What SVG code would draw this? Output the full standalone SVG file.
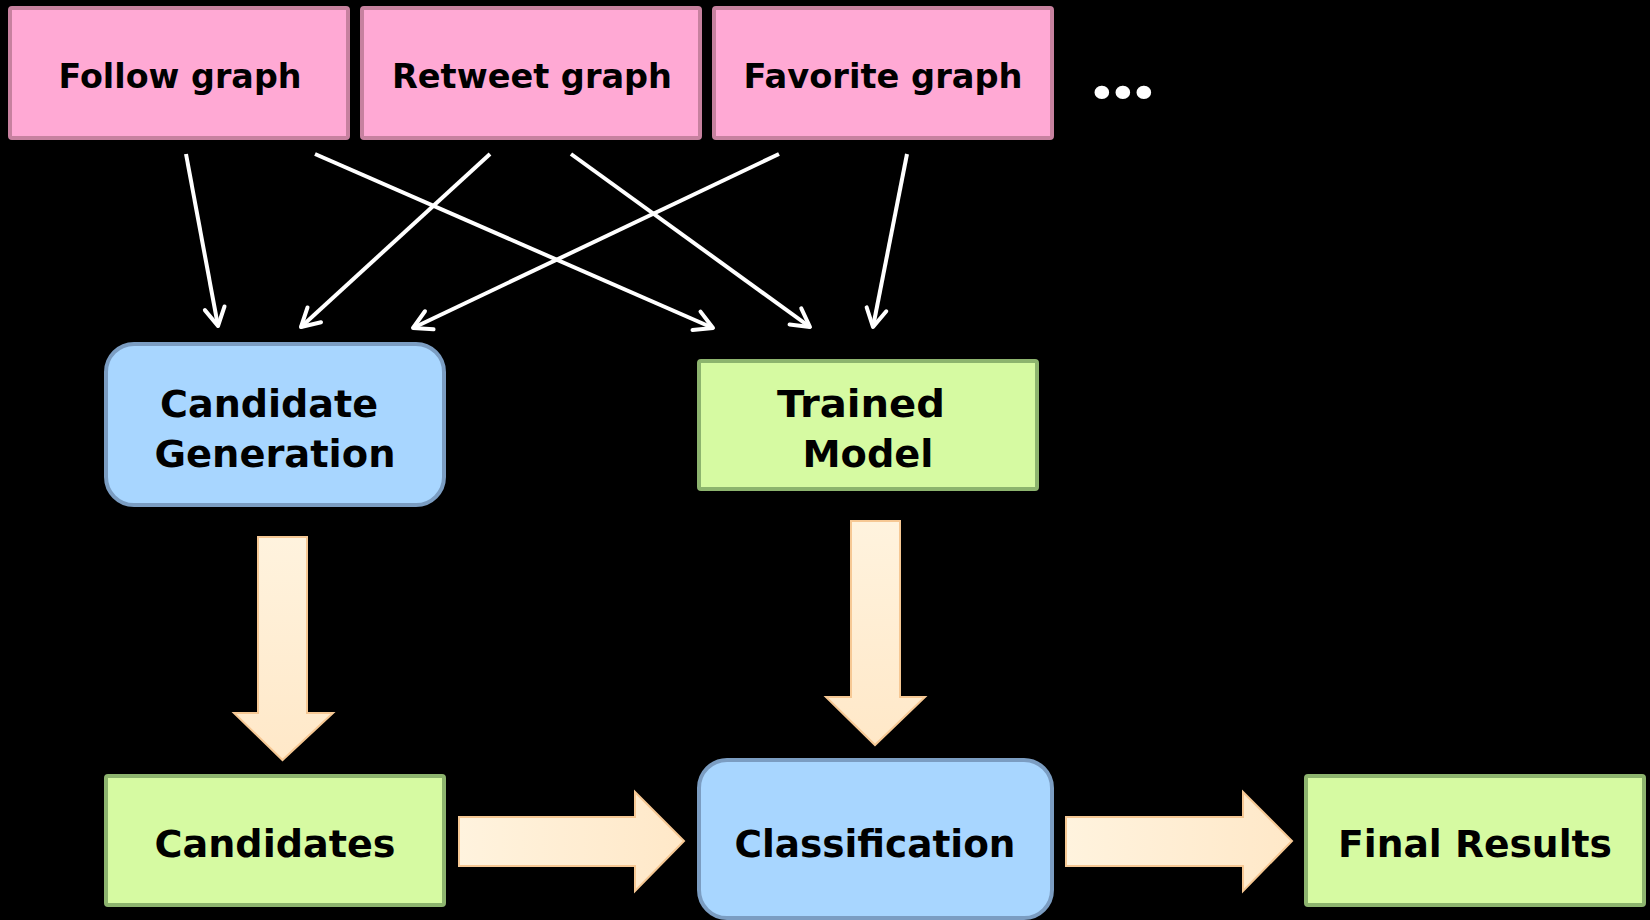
<svg xmlns="http://www.w3.org/2000/svg" width="1650" height="920" viewBox="0 0 1650 920">
  <style>
    .label { font-family: "DejaVu Sans", "Liberation Sans", sans-serif; font-weight: bold; fill: #000; text-anchor: middle; }
    .top { font-size: 34px; }
    .big { font-size: 37px; }
    .pink { fill: #FFA9D4; stroke: #C7819F; stroke-width: 4; }
    .green { fill: #D6FAA2; stroke: #8DB46E; stroke-width: 4; }
    .blue { fill: #A8D6FF; stroke: #7B9DC2; stroke-width: 4; }
    .block { fill: url(#cream); stroke: #F6C894; stroke-width: 2; }
    .blockH { fill: url(#creamH); stroke: #F6C894; stroke-width: 2; }
    .link { stroke: #FFFFFF; stroke-width: 4; fill: none; marker-end: url(#chev); }
  </style>
  <defs>
    <linearGradient id="cream" x1="0" y1="0" x2="0" y2="1">
      <stop offset="0" stop-color="#FFF3DE"/>
      <stop offset="1" stop-color="#FFE8C8"/>
    </linearGradient>
    <linearGradient id="creamH" x1="0" y1="0" x2="1" y2="0">
      <stop offset="0" stop-color="#FFF3DE"/>
      <stop offset="1" stop-color="#FFE8C8"/>
    </linearGradient>
    <marker id="chev" markerUnits="userSpaceOnUse" markerWidth="30" markerHeight="30" viewBox="-24 -15 30 30" refX="0" refY="0" orient="auto">
      <path d="M -18 -10 L 0 0 L -18 10" fill="none" stroke="#FFFFFF" stroke-width="4" stroke-linecap="round" stroke-linejoin="round"/>
    </marker>
  </defs>

  <rect width="1650" height="920" fill="#000"/>

  <!-- source graphs -->
  <g id="follow-graph">
    <rect class="pink" x="10" y="8" width="338" height="130" rx="2"/>
    <text class="label top" x="180" y="88" textLength="243" lengthAdjust="spacingAndGlyphs">Follow graph</text>
  </g>
  <g id="retweet-graph">
    <rect class="pink" x="362" y="8" width="338" height="130" rx="2"/>
    <text class="label top" x="532" y="88" textLength="280" lengthAdjust="spacingAndGlyphs">Retweet graph</text>
  </g>
  <g id="favorite-graph">
    <rect class="pink" x="714" y="8" width="338" height="130" rx="2"/>
    <text class="label top" x="883" y="88" textLength="279" lengthAdjust="spacingAndGlyphs">Favorite graph</text>
  </g>
  <g id="more-graphs">
    <text x="1102 1123 1144" y="99" font-family="Roboto, sans-serif" font-weight="900" font-size="80" fill="#FFFFFF" text-anchor="middle">...</text>
  </g>

  <!-- processing stages -->
  <g id="candidate-generation">
    <rect class="blue" x="106" y="344" width="338" height="161" rx="28"/>
    <text class="label big" x="269" y="417" textLength="218" lengthAdjust="spacingAndGlyphs">Candidate</text>
    <text class="label big" x="275" y="467" textLength="241" lengthAdjust="spacingAndGlyphs">Generation</text>
  </g>
  <g id="trained-model">
    <rect class="green" x="699" y="361" width="338" height="128" rx="2"/>
    <text class="label big" x="861" y="417" textLength="168" lengthAdjust="spacingAndGlyphs">Trained</text>
    <text class="label big" x="868" y="467" textLength="131" lengthAdjust="spacingAndGlyphs">Model</text>
  </g>
  <g id="candidates">
    <rect class="green" x="106" y="776" width="338" height="129" rx="2"/>
    <text class="label big" x="275" y="857" textLength="241" lengthAdjust="spacingAndGlyphs">Candidates</text>
  </g>
  <g id="classification">
    <rect class="blue" x="699" y="760" width="353" height="158" rx="28"/>
    <text class="label big" x="875" y="857" textLength="281" lengthAdjust="spacingAndGlyphs">Classification</text>
  </g>
  <g id="final-results">
    <rect class="green" x="1306" y="776" width="338" height="129" rx="2"/>
    <text class="label big" x="1475" y="857" textLength="274" lengthAdjust="spacingAndGlyphs">Final Results</text>
  </g>

  <!-- connectors -->
  <g id="connectors">
    <line class="link" x1="186" y1="154" x2="218" y2="326"/>
    <line class="link" x1="315" y1="154" x2="713" y2="328"/>
    <line class="link" x1="490" y1="154" x2="301" y2="327"/>
    <line class="link" x1="571" y1="154" x2="810" y2="327"/>
    <line class="link" x1="779" y1="154" x2="413" y2="328"/>
    <line class="link" x1="907" y1="154" x2="873" y2="327"/>

    <path class="block" d="M 258 537 H 307 V 713 H 333 L 282.5 760 L 234 713 H 258 Z"/>
    <path class="block" d="M 851 521 H 900 V 697 H 925 L 875 745 L 826 697 H 851 Z"/>
    <path class="blockH" d="M 459 817 H 635 V 792 L 684 841 L 635 891 V 866 H 459 Z"/>
    <path class="blockH" d="M 1066 817 H 1243 V 792 L 1292 841 L 1243 891 V 866 H 1066 Z"/>
  </g>
</svg>
